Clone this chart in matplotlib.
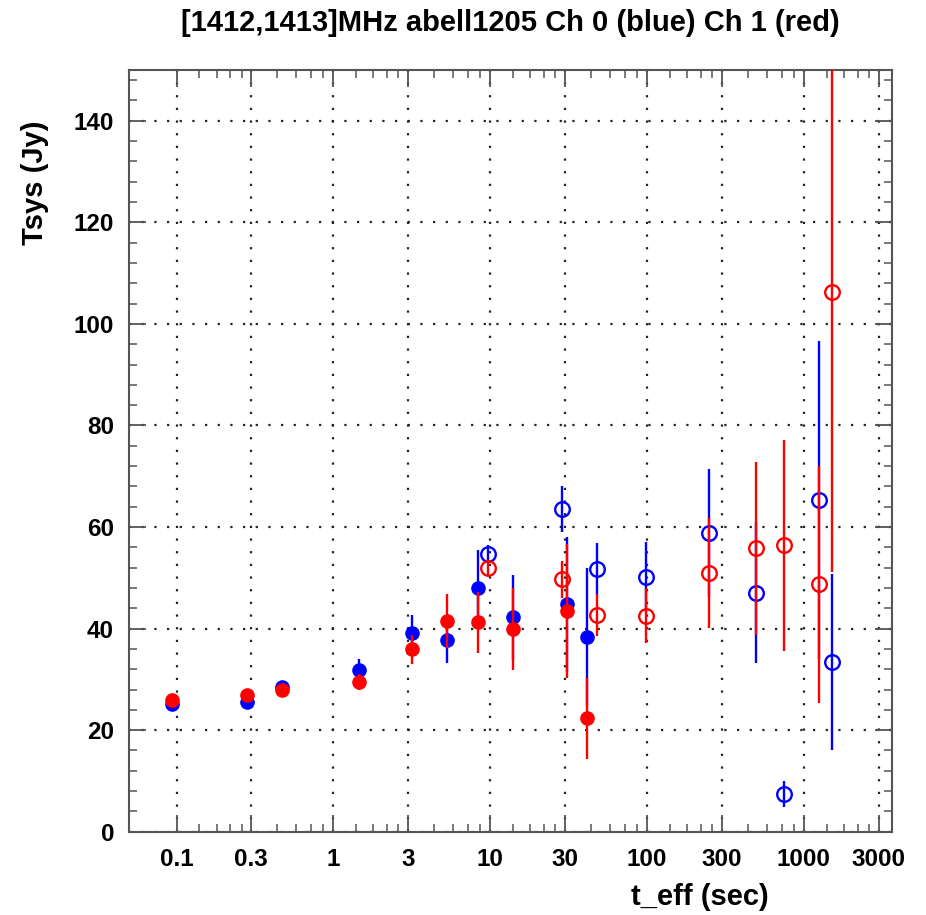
import matplotlib
matplotlib.use('Agg')
import matplotlib.pyplot as plt
from matplotlib.ticker import FixedLocator, FixedFormatter, NullFormatter

# ---- data ----
t_filled = [0.094, 0.281, 0.472, 1.46, 3.19, 5.27, 8.31, 13.9, 30.9, 41.5]
ch0_filled = [25.2, 25.6, 28.5, 31.8, 39.1, 37.7, 47.9, 42.2, 44.8, 38.4]
ch0_filled_err = [0.8, 0.8, 0.8, 2.3, 3.6, 4.4, 7.5, 8.3, 13.3, 13.5]
ch1_filled = [25.9, 26.9, 28.0, 29.5, 35.9, 41.5, 41.2, 39.9, 43.5, 22.3]
ch1_filled_err = [0.8, 0.8, 0.8, 1.5, 2.8, 5.4, 6.0, 8.0, 13.2, 7.9]

t_open = [9.72, 28.8, 48.1, 97.8, 248, 498, 744, 1245, 1507]
ch0_open = [54.7, 63.5, 51.8, 50.2, 58.8, 47.1, 7.4, 65.3, 33.4]
ch0_open_err = [1.8, 4.5, 5.1, 6.9, 12.6, 13.9, 2.5, 31.3, 17.3]
ch1_open = [51.9, 49.7, 42.7, 42.5, 50.9, 55.8, 56.4, 48.7, 106.3]
ch1_open_err = [1.5, 3.6, 4.1, 5.4, 10.8, 17.0, 20.8, 23.3, 55.2]

x_major = [0.1, 0.3, 1, 3, 10, 30, 100, 300, 1000, 3000]
x_labels = ['0.1', '0.3', '1', '3', '10', '30', '100', '300', '1000', '3000']
y_major = [0, 20, 40, 60, 80, 100, 120, 140]

title = '[1412,1413]MHz abell1205 Ch 0 (blue) Ch 1 (red)'
xlabel = 't_eff (sec)'
ylabel = 'Tsys (Jy)'

plt.rcParams['font.family'] = ['Liberation Sans', 'DejaVu Sans']
plt.rcParams['font.weight'] = 'bold'

W, H = 926, 915
fig = plt.figure(figsize=(W / 100, H / 100), dpi=100)
ax = fig.add_axes([129.3 / W, 1 - 831.7 / H, (891.7 - 129.3) / W, (831.7 - 70) / H])

ax.set_xscale('log')
ax.set_xlim(0.05, 3630)
ax.set_ylim(0, 150)

# minor ticks: linear subdivision into 5 between major ticks
x_minor = []
for a, b in zip(x_major[:-1], x_major[1:]):
    for k in range(1, 5):
        x_minor.append(a + (b - a) * k / 5)
ax.xaxis.set_major_locator(FixedLocator(x_major))
ax.xaxis.set_major_formatter(FixedFormatter(x_labels))
ax.xaxis.set_minor_locator(FixedLocator(x_minor))
ax.xaxis.set_minor_formatter(NullFormatter())
ax.yaxis.set_major_locator(FixedLocator(y_major))
ax.yaxis.set_minor_locator(FixedLocator([v for v in range(0, 151, 4) if v % 20 != 0]))

spine_col = '#555555'
for s in ax.spines.values():
    s.set_color(spine_col)
    s.set_linewidth(1.5)
ax.tick_params(which='both', direction='in', top=True, right=True, color=spine_col)
ax.tick_params(which='major', length=12, width=1.3, labelsize=17.5)
ax.tick_params(which='minor', length=6, width=1.1)
ax.tick_params(axis='x', which='major', pad=12)
ax.tick_params(axis='y', which='major', pad=11)

ax.grid(True, which='major', color='#222222', linestyle=(0, (1, 4.7)), linewidth=1.6)
ax.set_axisbelow(True)

blue = '#0000ff'
red = '#ff0000'
ekw = dict(linestyle='none', elinewidth=1.7, capsize=0)

# Ch 0 (blue)
ax.errorbar(t_filled, ch0_filled, yerr=ch0_filled_err, fmt='o', color=blue,
            ms=9.5, mec=blue, mfc=blue, zorder=3, **ekw)
ax.errorbar(t_open, ch0_open, yerr=ch0_open_err, fmt='o', color=blue,
            ms=10.5, mec=blue, mfc='none', mew=1.7, zorder=3, **ekw)
# Ch 1 (red)
ax.errorbar(t_filled, ch1_filled, yerr=ch1_filled_err, fmt='o', color=red,
            ms=9.5, mec=red, mfc=red, zorder=4, **ekw)
ax.errorbar(t_open, ch1_open, yerr=ch1_open_err, fmt='o', color=red,
            ms=10.5, mec=red, mfc='none', mew=1.7, zorder=4, **ekw)

fig.text(510 / W, 1 - 22.7 / H, title, ha='center', va='center',
         fontsize=21, fontweight='bold')
fig.text(700 / W, 1 - 897 / H, xlabel, ha='center', va='center',
         fontsize=21, fontweight='bold')
fig.text(35 / W, 1 - 183 / H, ylabel, ha='center', va='center', rotation=90,
         fontsize=21, fontweight='bold')

fig.savefig('out.png', dpi=100)
